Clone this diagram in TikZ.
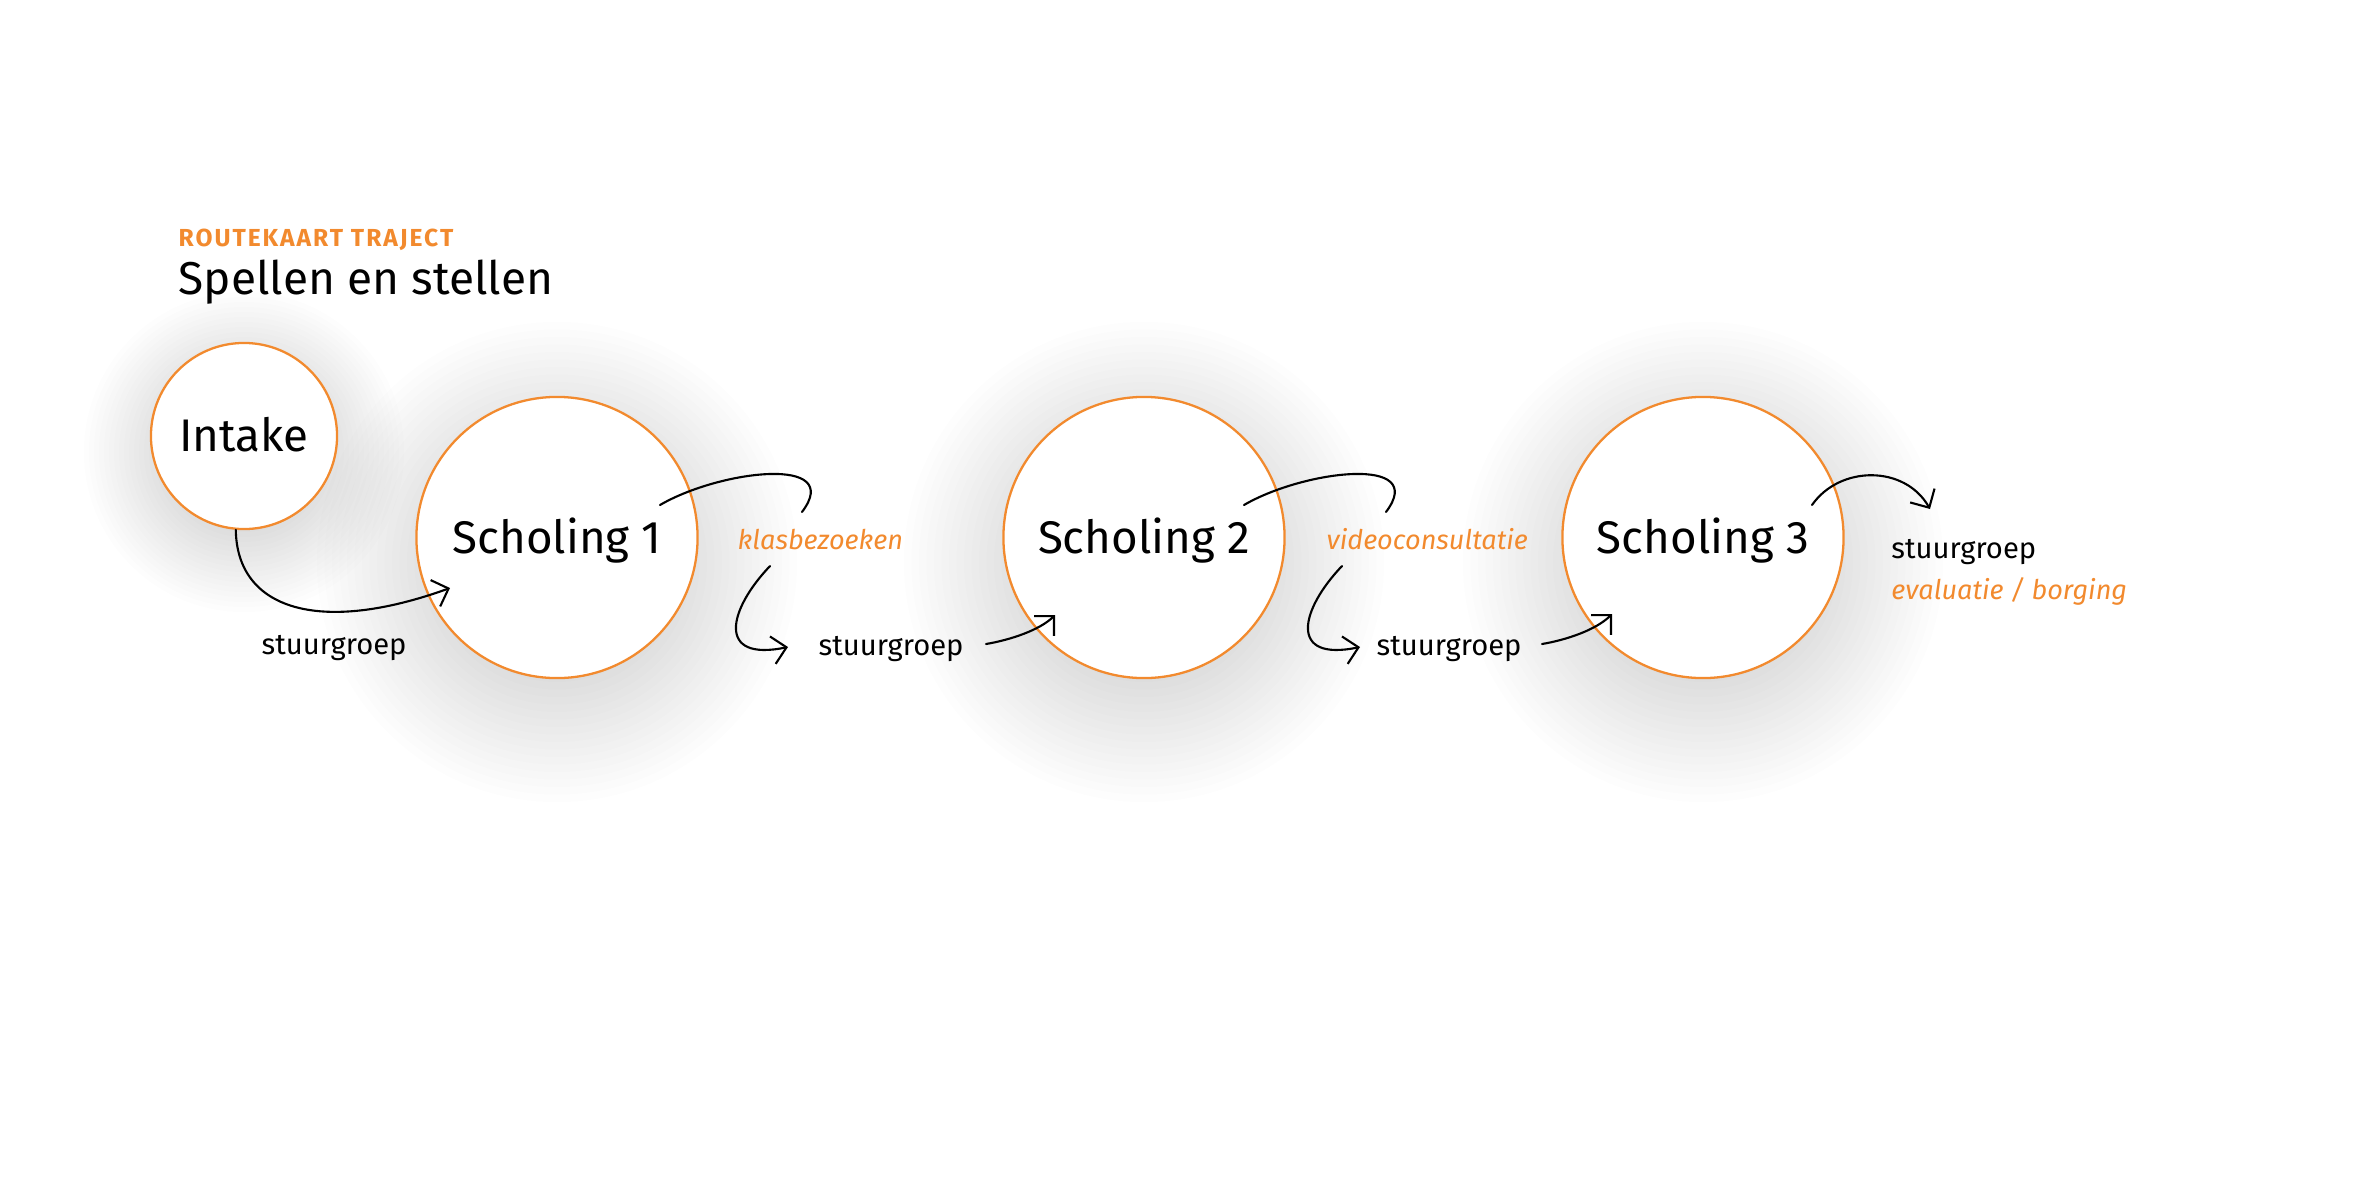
\documentclass[tikz,border=0pt]{standalone}
\usepackage{fontspec}
\setmainfont{Fira Sans}
\newfontfamily\kopfont[LetterSpace=8]{Fira Sans}
\usetikzlibrary{arrows.meta}
\definecolor{oranje}{HTML}{F28A2E}

\begin{document}
\begin{tikzpicture}[x=0.01cm,y=-0.01cm,
    stap/.style={circle,draw=oranje,line width=0.65pt,fill=white,inner sep=0pt,text height=8.9pt,text depth=0pt,font=\fontsize{13}{15}\selectfont},
    tekst/.style={anchor=base west,inner sep=0pt,font=\fontsize{8.3}{10}\selectfont},
    oranjetekst/.style={tekst,text=oranje,font=\fontsize{7.7}{9}\selectfont\itshape},
    schaduw/.style={black,opacity=0.008},
    boog/.style={line width=0.6pt,line cap=round},
    pijl/.style={boog,-{Straight Barb[length=1.4mm,width=2.8mm]}}]
          \fill[white] (0,0) rectangle (2362,1181);
          % schaduwen
          \foreach \k in {0,...,16} {
            \fill[schaduw] (244,452) circle[radius=0.8cm+\k*0.05cm];
            \fill[schaduw] (557,562) circle[radius=1.2cm+\k*0.075cm];
            \fill[schaduw] (1144,562) circle[radius=1.2cm+\k*0.075cm];
            \fill[schaduw] (1703,562) circle[radius=1.2cm+\k*0.075cm];
          }
          \node[anchor=base west,inner sep=0pt,text=oranje,font=\kopfont\bfseries\fontsize{7}{8}\selectfont] (kop) at (178,246.7) {ROUTEKAART TRAJECT};
          \node[anchor=base west,inner sep=0pt,font=\fontsize{13.1}{15}\selectfont] (titel) at (178,294) {Spellen en stellen};
          % stappen
          \node[stap,minimum size=1.86cm] (intake) at (244,436) {Intake};
          \node[stap,minimum size=2.81cm] (s1) at (557,537.5) {Scholing 1};
          \node[stap,minimum size=2.81cm] (s2) at (1144,537.5) {Scholing 2};
          \node[stap,minimum size=2.81cm] (s3) at (1703,537.5) {Scholing 3};
          % teksten
          \node[tekst] (sg1) at (261,654.5) {stuurgroep};
          \node[oranjetekst] (kb) at (737,549.3) {klasbezoeken};
          \node[tekst] (sg2) at (818,655) {stuurgroep};
          \node[oranjetekst] (vc) at (1326,549) {videoconsultatie};
          \node[tekst] (sg3) at (1376,655) {stuurgroep};
          \node[tekst] (sg4) at (1890.7,558.3) {stuurgroep};
          \node[oranjetekst] (eb) at (1890.7,599.3) {evaluatie / borging};
          % vrije eindpunten
          \coordinate (s1in) at (450,588);
          \coordinate (s1uit) at (660,505);
          \coordinate (kbboven) at (802,512);
          \coordinate (kbonder) at (770,566);
          \coordinate (sg2voor) at (788,647);
          \coordinate (sg2na) at (986,644);
          \coordinate (s2in) at (1055,615);
          \coordinate (s2uit) at (1244,505);
          \coordinate (vcboven) at (1386,512);
          \coordinate (vconder) at (1342,566);
          \coordinate (sg3voor) at (1360,647);
          \coordinate (sg3na) at (1542,644);
          \coordinate (s3in) at (1612,614);
          \coordinate (s3uit) at (1812,505);
          \coordinate (sg4boven) at (1930,509);
          % route
          \draw[pijl] (intake.265) .. controls (237,610) and (320,635) .. (s1in);
          \draw[boog] (s1uit) .. controls (720,470) and (845,455) .. (kbboven);
          \draw[pijl] (kbonder) .. controls (728,610) and (716,662) .. (sg2voor);
          \draw[pijl] (sg2na) .. controls (1010,640) and (1040,630) .. (s2in);
          \draw[boog] (s2uit) .. controls (1304,470) and (1429,455) .. (vcboven);
          \draw[pijl] (vconder) .. controls (1300,610) and (1288,662) .. (sg3voor);
          \draw[pijl] (sg3na) .. controls (1566,640) and (1596,630) .. (s3in);
          \draw[pijl] (s3uit) .. controls (1840,465) and (1905,465) .. (sg4boven);
        \end{tikzpicture}
\end{document}
